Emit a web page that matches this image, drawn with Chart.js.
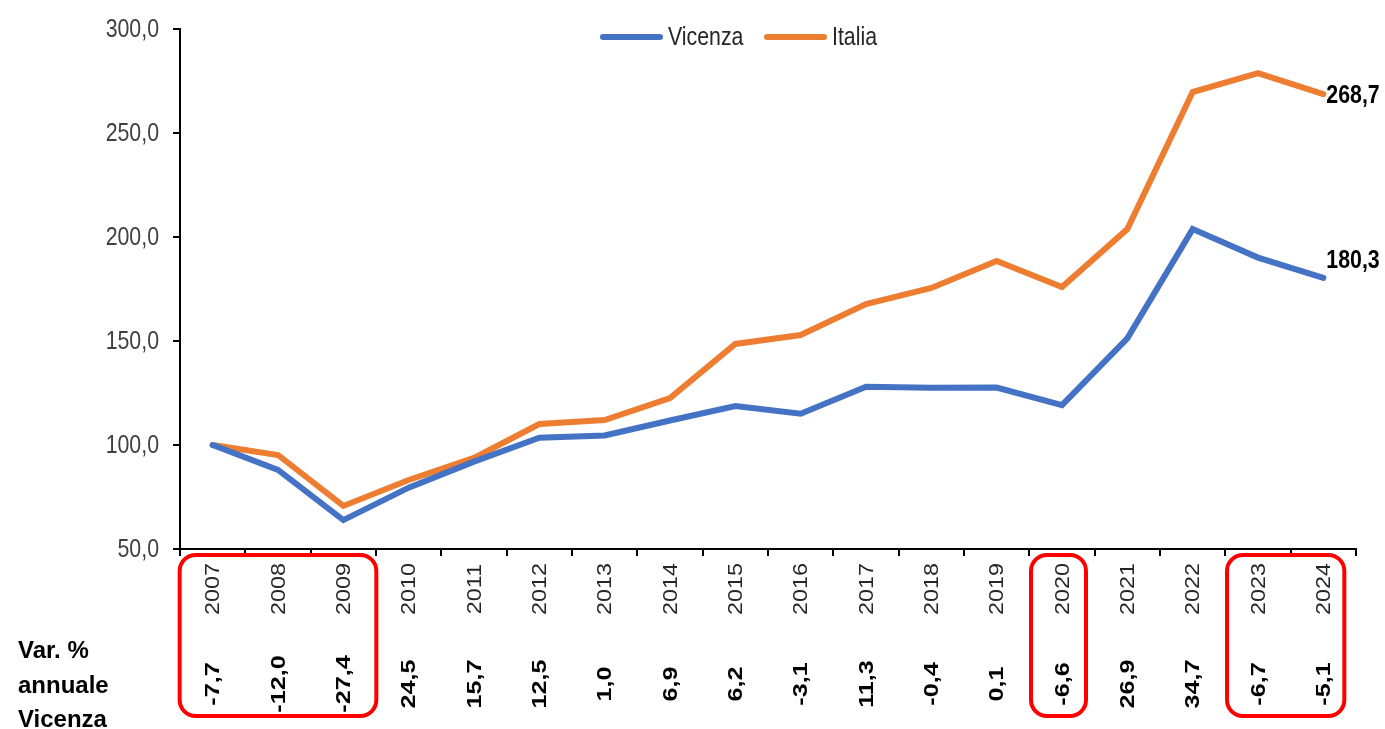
<!DOCTYPE html>
<html lang="it">
<head>
<meta charset="UTF-8">
<title>Vicenza e Italia - numeri indice</title>
<style>
  html, body { margin: 0; padding: 0; background: #fff; }
  canvas { display: block; }
</style>
</head>
<body>
<canvas id="myChart" width="1385" height="729"></canvas>
<script src="https://cdn.jsdelivr.net/npm/chart.js"></script>
<script>
const years = ['2007', '2008', '2009', '2010', '2011', '2012', '2013', '2014', '2015',
    '2016', '2017', '2018', '2019', '2020', '2021', '2022', '2023', '2024'];
const vicenza = [100.0, 88.0, 63.9, 79.5, 92.0, 103.5, 104.6, 111.8, 118.7,
    115.0, 128.0, 127.5, 127.6, 119.2, 151.3, 203.8, 190.1, 180.3];
const italia = [100.0, 95.2, 70.7, 83.2, 93.8, 110.1, 112.0, 122.6, 148.6,
    152.9, 167.8, 175.5, 188.5, 176.0, 203.8, 269.7, 278.8, 268.7];
const varVicenza = ['-7,7', '-12,0', '-27,4', '24,5', '15,7', '12,5', '1,0', '6,9', '6,2',
    '-3,1', '11,3', '-0,4', '0,1', '-6,6', '26,9', '34,7', '-6,7', '-5,1'];
const yTicks = [50, 100, 150, 200, 250, 300];
// groups of years framed in red (first index, last index)
const highlighted = [[0, 2], [13, 13], [16, 17]];

const SANS = '"Liberation Sans", Arial, sans-serif';
const fmt = v => v.toFixed(1).replace('.', ',');

// text squeezed horizontally, like the narrow font of the original
let narrowText = (ctx, text, x, y, sx) => {
    ctx.save();
    ctx.translate(x, y);
    ctx.scale(sx, 1);
    ctx.fillText(text, 0, 0);
    ctx.restore();
};

let rotatedText = (ctx, text, x, y, stretch) => {
    ctx.save();
    ctx.translate(x, y);
    ctx.rotate(-Math.PI / 2);
    ctx.scale(stretch, 1);
    ctx.textAlign = 'center';
    ctx.textBaseline = 'middle';
    ctx.fillText(text, 0, 0);
    ctx.restore();
};

const extras = {
    id: 'extras',
    afterDraw(chart) {
        const { ctx, scales: { x, y } } = chart;
        ctx.save();

        // y tick labels
        ctx.font = '26px ' + SANS;
        ctx.fillStyle = '#404040';
        ctx.textAlign = 'right';
        ctx.textBaseline = 'middle';
        yTicks.forEach(v => narrowText(ctx, fmt(v), 159, y.getPixelForValue(v) + 1, 0.82));

        // legend
        let lx = 603;
        chart.data.datasets.forEach(ds => {
            ctx.strokeStyle = ds.borderColor;
            ctx.lineWidth = 6;
            ctx.lineCap = 'round';
            ctx.beginPath();
            ctx.moveTo(lx, 37);
            ctx.lineTo(lx + 57, 37);
            ctx.stroke();
            ctx.font = '26px ' + SANS;
            ctx.fillStyle = '#262626';
            ctx.textAlign = 'left';
            ctx.textBaseline = 'middle';
            narrowText(ctx, ds.label, lx + 65, 38, 0.82);
            lx += 164;
        });

        // year labels and yearly variations, rotated
        years.forEach((yr, i) => {
            const px = x.getPixelForValue(i) + 1;
            ctx.font = '20px ' + SANS;
            ctx.fillStyle = '#262626';
            rotatedText(ctx, yr, px, 589, 1.17);
            ctx.font = 'bold 21px ' + SANS;
            ctx.fillStyle = '#000';
            rotatedText(ctx, varVicenza[i], px, 684, 1.2);
        });

        // row title
        ctx.font = 'bold 24px ' + SANS;
        ctx.fillStyle = '#000';
        ctx.textAlign = 'left';
        ctx.textBaseline = 'alphabetic';
        ['Var. %', 'annuale', 'Vicenza'].forEach((t, k) => ctx.fillText(t, 18, 658 + k * 34.5));

        // end values
        const ends = [{ ds: 1, dy: 2 }, { ds: 0, dy: -17 }];
        ctx.font = 'bold 26px ' + SANS;
        ctx.textBaseline = 'middle';
        ends.forEach(e => {
            const meta = chart.getDatasetMeta(e.ds);
            const last = meta.data.length - 1;
            const pt = meta.data[last];
            narrowText(ctx, fmt(chart.data.datasets[e.ds].data[last]), pt.x + 3, pt.y + e.dy, 0.82);
        });

        // red frames
        const pads = [[-33, 33], [-31, 24], [-31, 21]];
        ctx.strokeStyle = '#ff0000';
        ctx.lineWidth = 4;
        highlighted.forEach(([a, b], k) => {
            const left = x.getPixelForValue(a) + pads[k][0];
            const right = x.getPixelForValue(b) + pads[k][1];
            ctx.beginPath();
            ctx.roundRect(left, 555, right - left, 161, 16);
            ctx.stroke();
        });

        ctx.restore();
    }
};

const config = {
    type: 'line',
    data: {
        labels: years,
        datasets: [{
            label: 'Vicenza',
            data: vicenza,
            borderColor: '#4472c4',
            backgroundColor: '#4472c4',
            borderWidth: 6,
            pointRadius: 0,
            tension: 0,
            borderCapStyle: 'round'
        }, {
            label: 'Italia',
            data: italia,
            borderColor: '#ed7d31',
            backgroundColor: '#ed7d31',
            borderWidth: 6,
            pointRadius: 0,
            tension: 0,
            borderCapStyle: 'round'
        }]
    },
    options: {
        responsive: false,
        animation: false,
        layout: { padding: { top: 29, right: 29, left: 0, bottom: 0 } },
        plugins: {
            legend: { display: false },
            tooltip: { enabled: false }
        },
        scales: {
            x: {
                offset: true,
                grid: { drawOnChartArea: false, offset: true, tickLength: 7, color: '#000', lineWidth: 2 },
                border: { color: '#000', width: 2 },
                ticks: { display: false },
                afterFit: s => { s.height = 180; }
            },
            y: {
                min: 50,
                max: 300,
                afterBuildTicks: s => { s.ticks = yTicks.map(v => ({ value: v })); },
                grid: { drawOnChartArea: false, tickLength: 7, color: '#000', lineWidth: 2 },
                border: { color: '#000', width: 2 },
                ticks: { display: false },
                afterFit: s => { s.width = 180; }
            }
        }
    },
    plugins: [extras]
};

const myChart = new Chart(document.getElementById('myChart'), config);
</script>
</body>
</html>
